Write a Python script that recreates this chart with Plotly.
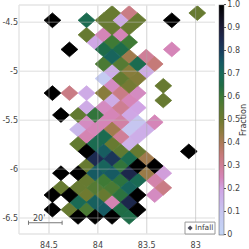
import plotly.graph_objects as go
from plotly.colors import sample_colorscale

lon = [
 83.855, 83.680, 82.983,
 84.465, 84.116, 83.942, 83.767, 83.593, 83.244,
 83.855, 83.680,
 84.116, 83.942, 83.767,
 84.029, 83.855, 83.680,
 84.291, 83.942, 83.767, 83.244,
 83.855, 83.680, 83.506,
 83.942, 83.767, 83.593, 83.419,
 83.855, 83.680, 83.506,
 83.942, 83.767, 83.593,
 83.855, 83.680, 83.331,
 84.465, 84.291, 84.116, 83.942, 83.767, 83.593,
 83.855, 83.680, 83.331,
 84.116, 83.942, 83.767, 83.593,
 84.378, 84.203, 84.029, 83.855, 83.680,
 84.116, 83.942, 83.767, 83.593, 83.419,
 84.203, 84.029, 83.855, 83.680, 83.506,
 84.116, 83.942, 83.767, 83.593,
 84.203, 84.029, 83.855, 83.680,
 84.116, 83.942, 83.767, 83.593, 83.070,
 84.029, 83.855, 83.680, 83.506,
 84.116, 83.942, 83.767, 83.593, 83.419,
 84.378, 84.203, 84.029, 83.855, 83.680, 83.506, 83.331,
 84.116, 83.942, 83.767, 83.593, 83.419,
 84.378, 84.203, 84.029, 83.855, 83.680, 83.331,
 84.465, 84.291, 84.116, 83.942, 83.767, 83.593, 83.419,
 84.203, 84.029, 83.855, 83.680,
 84.465, 84.291, 84.116, 83.942, 83.767, 83.593,
 84.203, 84.029, 83.855, 83.680,
]
lat = [
 -4.405, -4.405, -4.405,
 -4.479, -4.479, -4.479, -4.479, -4.479, -4.479,
 -4.554, -4.554,
 -4.628, -4.628, -4.628,
 -4.703, -4.703, -4.703,
 -4.777, -4.777, -4.777, -4.777,
 -4.851, -4.851, -4.851,
 -4.926, -4.926, -4.926, -4.926,
 -5.000, -5.000, -5.000,
 -5.075, -5.075, -5.075,
 -5.149, -5.149, -5.149,
 -5.223, -5.223, -5.223, -5.223, -5.223, -5.223,
 -5.298, -5.298, -5.298,
 -5.372, -5.372, -5.372, -5.372,
 -5.447, -5.447, -5.447, -5.447, -5.447,
 -5.521, -5.521, -5.521, -5.521, -5.521,
 -5.595, -5.595, -5.595, -5.595, -5.595,
 -5.670, -5.670, -5.670, -5.670,
 -5.744, -5.744, -5.744, -5.744,
 -5.819, -5.819, -5.819, -5.819, -5.819,
 -5.893, -5.893, -5.893, -5.893,
 -5.967, -5.967, -5.967, -5.967, -5.967,
 -6.042, -6.042, -6.042, -6.042, -6.042, -6.042, -6.042,
 -6.116, -6.116, -6.116, -6.116, -6.116,
 -6.191, -6.191, -6.191, -6.191, -6.191, -6.191,
 -6.265, -6.265, -6.265, -6.265, -6.265, -6.265, -6.265,
 -6.339, -6.339, -6.339, -6.339,
 -6.414, -6.414, -6.414, -6.414, -6.414, -6.414,
 -6.488, -6.488, -6.488, -6.488,
]
fraction = [
 .52, .33, .52,
 1, .68, .52, .18, .52, 1,
 .52, .52,
 .52, .25, .25,
 .19, .6, .6,
 1, .66, .66, .25,
 .72, .42, .3,
 .58, .56, .68, .35,
 .17, .46, .18,
 .07, .53, .47,
 .24, .49, .52,
 1, .33, .18, .46, .33, .24,
 .18, .25, .52,
 .18, .24, .31, .2,
 1, .53, .62, .25, .19,
 .24, .25, .28, .1, .25,
 .14, .25, .42, .1, .17,
 .26, .68, .3, .17,
 .53, .68, .52, .16,
 1, .74, .54, .52, 1,
 .85, .82, .68, .42,
 .52, .72, .62, 1, 1,
 1, 1, .75, .75, .86, .43, .21,
 .52, .6, .63, .69, .27,
 .52, .52, .56, .58, .72, .33,
 1, 1, .5, .52, .63, 1, .24,
 .69, .73, .26, .86,
 1, .52, .58, .75, .65, 1,
 1, 1, 1, .66,
]
x_ticks = [84.5, 84, 83.5, 83]
x_labels = ["84.5", "84", "83.5", "83"]
y_ticks = [-4.5, -5, -5.5, -6, -6.5]
y_labels = ["-4.5", "-5", "-5.5", "-6", "-6.5"]
cb_ticks = [0, .1, .2, .3, .4, .5, .6, .7, .8, .9, 1]
cb_labels = ["0", "0.1", "0.2", "0.3", "0.4", "0.5", "0.6", "0.7", "0.8", "0.9", "1.0"]
scale_lon = [84.71, 84.366]
scale_lat = [-6.548, -6.548]

colorscale = [
 [0, "#c3d6f6"], [.1, "#c6c6f0"], [.2, "#d0a4e4"], [.25, "#d585b8"], [.3, "#cf7f98"],
 [.35, "#c57a78"], [.4, "#ad7a58"], [.45, "#8e7c3e"], [.5, "#6f7a30"], [.55, "#5a7a32"],
 [.6, "#3f7a35"], [.65, "#1f6c45"], [.7, "#196a58"], [.75, "#165a62"], [.8, "#183e5e"],
 [.85, "#1c2a50"], [.9, "#1d1c38"], [1, "#000000"],
]
HW, HH = 0.086, 0.0755
FONT = "DejaVu Sans"
GREY = "#444"

fig = go.Figure()
fig.add_trace(go.Scatter(
    x=lon, y=lat, mode="markers", showlegend=False, hoverinfo="skip",
    marker=dict(size=1, color=fraction, colorscale=colorscale, cmin=0, cmax=1,
        colorbar=dict(
            x=1.018, xanchor="left", xref="paper", xpad=0, ypad=0, y=0.5, yanchor="middle", len=1.004, lenmode="fraction",
            thickness=5, outlinewidth=0.5, outlinecolor="#555",
            tickvals=cb_ticks, ticktext=cb_labels, ticks="outside", ticklen=2, tickwidth=1, tickcolor="#555",
            tickfont=dict(family=FONT, size=8, color=GREY),
        )),
))
for v in sorted(set(fraction)):
    xs, ys = [], []
    for a, b, f in zip(lon, lat, fraction):
        if f == v:
            xs += [a - HW, a, a + HW, a, a - HW, None]
            ys += [b, b + HH, b, b - HH, b, None]
    c = sample_colorscale(colorscale, [v])[0]
    fig.add_trace(go.Scatter(x=xs, y=ys, mode="lines", fill="toself", line=dict(width=0.8, color=c),
        fillcolor=c, showlegend=False, hoverinfo="skip"))

fig.add_trace(go.Scatter(x=scale_lon, y=scale_lat, mode="lines+markers", showlegend=False, hoverinfo="skip",
    line=dict(color="#777", width=1), marker=dict(symbol="line-ns", size=3, color="#777", line=dict(width=1, color="#777"))))

shapes = []
for t in x_ticks:
    shapes.append(dict(type="line", xref="x", yref="paper", x0=t, x1=t, y0=0, y1=1,
                       line=dict(color="rgba(170,170,170,.5)", width=1), layer="above"))
for t in y_ticks:
    shapes.append(dict(type="line", xref="paper", yref="y", x0=0, x1=1, y0=t, y1=t,
                       line=dict(color="rgba(190,190,190,.35)", width=1.4), layer="above"))
shapes.append(dict(type="line", xref="paper", yref="paper", x0=0, x1=0, y0=0, y1=1, line=dict(color="#e4e4e4", width=1.4)))
shapes.append(dict(type="line", xref="paper", yref="paper", x0=0, x1=1, y0=1, y1=1, line=dict(color="#e4e4e4", width=1.4)))
shapes.append(dict(type="line", xref="paper", yref="paper", x0=0, x1=1, y0=0, y1=0, line=dict(color="#e4e4e4", width=1.4)))
shapes.append(dict(type="rect", xref="paper", yref="paper", x0=0.847, x1=1, y0=0, y1=0.052,
                   fillcolor="white", line=dict(color="#999", width=1), layer="above"))
shapes.append(dict(type="path", xref="paper", yref="paper", layer="above", line=dict(width=0), fillcolor="#4a4a5a",
                   path="M 0.86 0.026 L 0.873 0.037 L 0.886 0.026 L 0.873 0.015 Z"))

fig.update_layout(
    width=249, height=249, margin=dict(l=18.5, r=34, t=5, b=15, autoexpand=False),
    paper_bgcolor="white", plot_bgcolor="white", shapes=shapes,
    xaxis=dict(range=[84.807, 82.802], tickvals=x_ticks, ticktext=x_labels, showgrid=False, zeroline=False,
               ticks="outside", ticklen=3, tickcolor="rgba(0,0,0,0)", tickfont=dict(family=FONT, size=8, color=GREY)),
    yaxis=dict(range=[-6.663, -4.323], tickvals=y_ticks, ticktext=y_labels, showgrid=False, zeroline=False,
               ticks="", tickfont=dict(family=FONT, size=8, color=GREY)),
    annotations=[
        dict(text="20'", x=84.6, y=-6.505, xref="x", yref="y", showarrow=False, font=dict(family=FONT, size=8, color=GREY)),
        dict(text="Infall", x=0.998, y=0.0, xref="paper", yref="paper", xanchor="right", yanchor="bottom", showarrow=False,
             font=dict(family=FONT, size=7.5, color=GREY)),
        dict(text="Fraction", x=1.145, y=0.5, xref="paper", yref="paper", xanchor="center", yanchor="middle", textangle=-90,
             showarrow=False, font=dict(family=FONT, size=8, color="#333")),
    ],
)
fig.write_html("out.html", config={"displayModeBar": False},
               post_script="document.body.style.margin='0';document.documentElement.style.overflow='hidden';")
